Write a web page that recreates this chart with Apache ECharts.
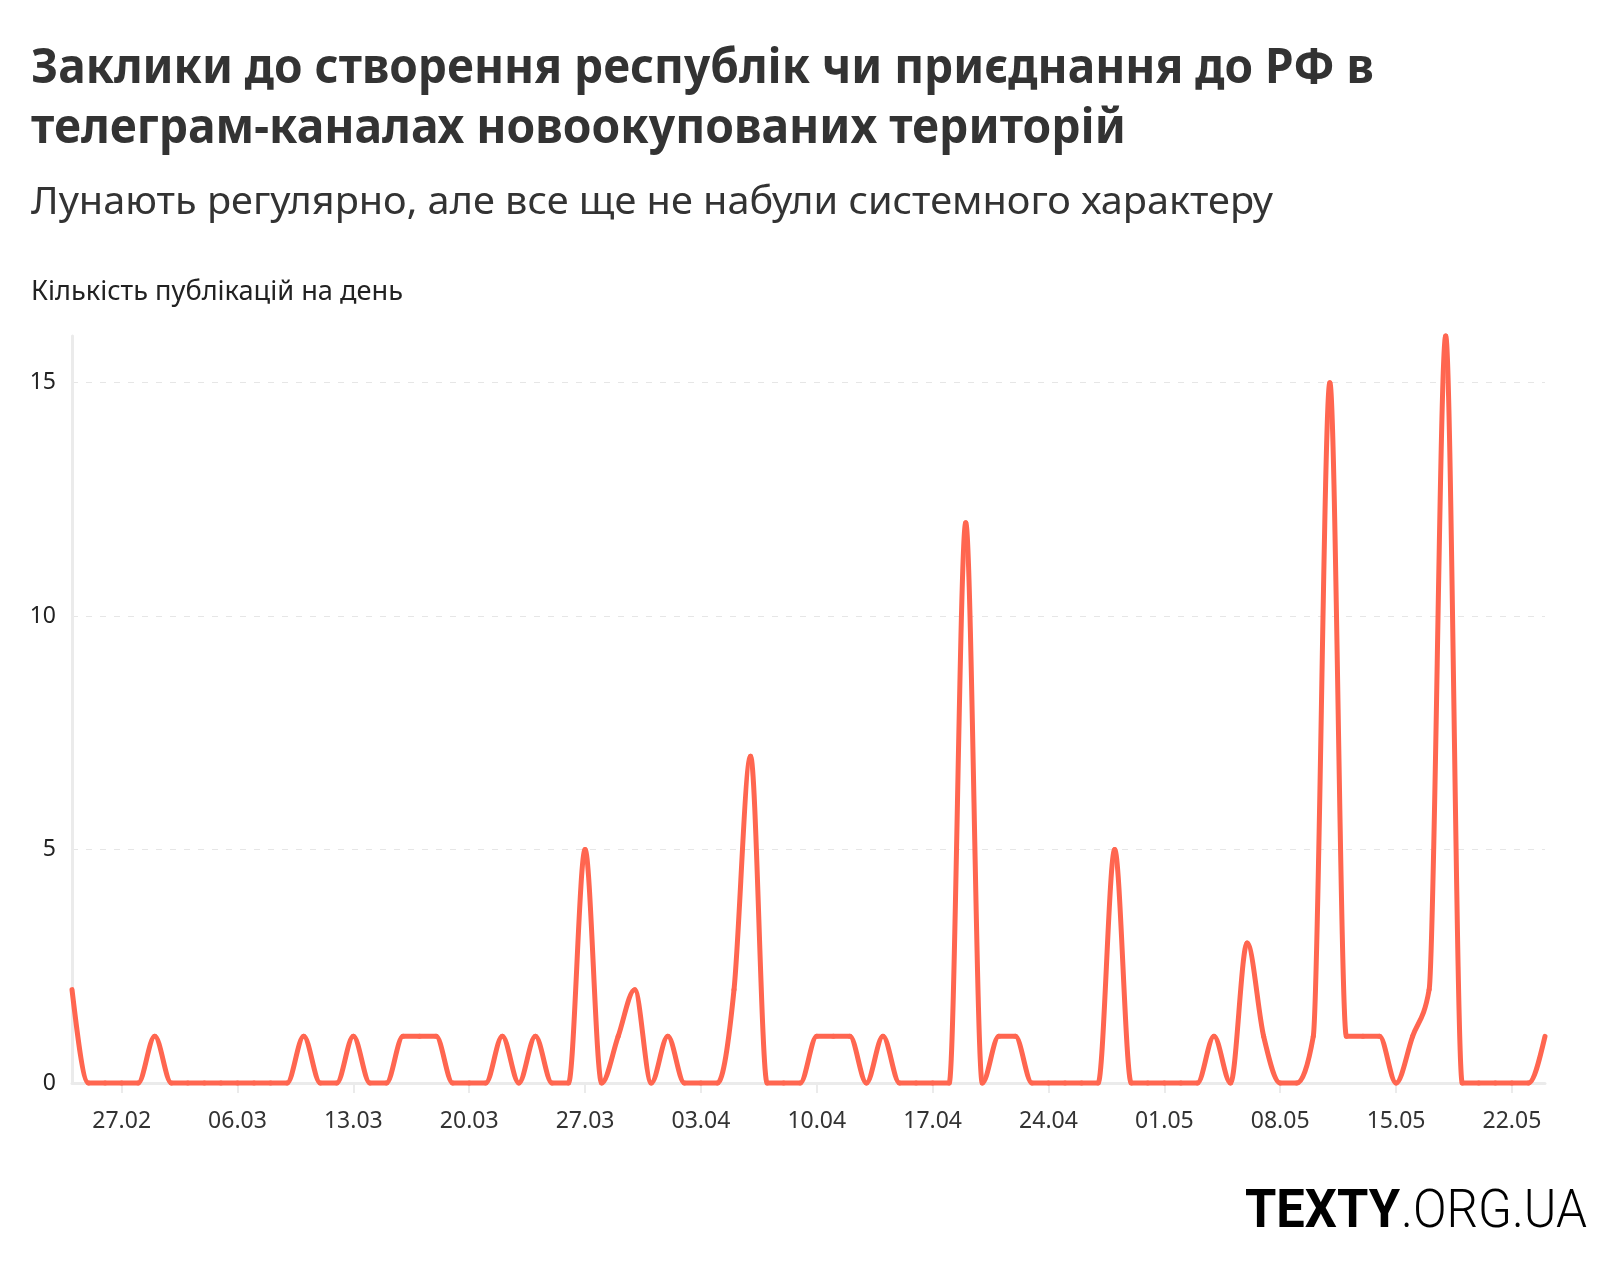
<!DOCTYPE html>
<html>
<head>
<meta charset="utf-8">
<title>Заклики до створення республік чи приєднання до РФ</title>
<script src="https://cdn.jsdelivr.net/npm/echarts@6/dist/echarts.min.js"></script>
<style>
  html, body { margin: 0; padding: 0; background: #fff; }
  #chart { width: 1620px; height: 1270px; }
</style>
</head>
<body>
<div id="chart"></div>
<script>
// дні спостереження, 24.02 - 24.05
var days = [
  '24.02', '25.02', '26.02', '27.02', '28.02',
  '01.03', '02.03', '03.03', '04.03', '05.03', '06.03', '07.03', '08.03', '09.03', '10.03',
  '11.03', '12.03', '13.03', '14.03', '15.03', '16.03', '17.03', '18.03', '19.03', '20.03',
  '21.03', '22.03', '23.03', '24.03', '25.03', '26.03', '27.03', '28.03', '29.03', '30.03', '31.03',
  '01.04', '02.04', '03.04', '04.04', '05.04', '06.04', '07.04', '08.04', '09.04', '10.04',
  '11.04', '12.04', '13.04', '14.04', '15.04', '16.04', '17.04', '18.04', '19.04', '20.04',
  '21.04', '22.04', '23.04', '24.04', '25.04', '26.04', '27.04', '28.04', '29.04', '30.04',
  '01.05', '02.05', '03.05', '04.05', '05.05', '06.05', '07.05', '08.05', '09.05', '10.05',
  '11.05', '12.05', '13.05', '14.05', '15.05', '16.05', '17.05', '18.05', '19.05', '20.05',
  '21.05', '22.05', '23.05', '24.05'
];
// кількість публікацій на день
var posts = [
  2, 0, 0, 0, 0,
  1, 0, 0, 0, 0, 0, 0, 0, 0, 1,
  0, 0, 1, 0, 0, 1, 1, 1, 0, 0,
  0, 1, 0, 1, 0, 0, 5, 0, 1, 2, 0,
  1, 0, 0, 0, 2, 7, 0, 0, 0, 1,
  1, 1, 0, 1, 0, 0, 0, 0, 12, 0,
  1, 1, 0, 0, 0, 0, 0, 5, 0, 0,
  0, 0, 0, 1, 0, 3, 1, 0, 0, 1,
  15, 1, 1, 1, 0, 1, 2, 16, 0, 0,
  0, 0, 0, 1
];
// підписи осей
var xTicks = ['27.02', '06.03', '13.03', '20.03', '27.03', '03.04', '10.04', '17.04', '24.04', '01.05', '08.05', '15.05', '22.05'];
var yTicks = [0, 5, 10, 15];
var yMax = 16;

var titleLines = ['Заклики до створення республік чи приєднання до РФ в', 'телеграм-каналах новоокупованих територій'];
var subTitle = 'Лунають регулярно, але все ще не набули системного характеру';
var yName = 'Кількість публікацій на день';

var lineColor = '#ff6650';
var axisGray = '#ebebeb';

// текст, стиснутий по ширині (оригінал набрано вузьким шрифтом)
var measureCtx = document.createElement('canvas').getContext('2d');
function fitText(text, size, weight, family, left, baseline, width, color) {
  var font = weight + ' ' + size + 'px ' + family;
  measureCtx.font = font;
  var w = measureCtx.measureText(text).width;
  return {
    type: 'text',
    x: left,
    y: baseline - size * 0.285,
    scaleX: width / w,
    style: {
      text: text, font: font, fill: color,
      align: 'left', verticalAlign: 'middle',
      textAlign: 'left', textVerticalAlign: 'middle'
    }
  };
}

// нахили монотонної кривої (як curveMonotoneX)
function sign(v) { return v < 0 ? -1 : 1; }
var slopes = (function () {
  var n = posts.length, t = [];
  for (var i = 1; i < n - 1; i++) {
    var s0 = posts[i] - posts[i - 1], s1 = posts[i + 1] - posts[i];
    var p = (s0 + s1) / 2;
    t[i] = (sign(s0) + sign(s1)) * Math.min(Math.abs(s0), Math.abs(s1), 0.5 * Math.abs(p)) || 0;
  }
  t[0] = (3 * (posts[1] - posts[0]) - t[1]) / 2;
  t[n - 1] = (3 * (posts[n - 1] - posts[n - 2]) - t[n - 2]) / 2;
  return t;
})();

var lineData = posts.map(function (v, i) { return [i, v]; });

function renderSegment(params, api) {
  var i = params.dataIndex;
  if (i >= posts.length - 1) return null;
  var p0 = api.coord([i, posts[i]]);
  var p1 = api.coord([i + 1, posts[i + 1]]);
  var c0 = api.coord([i, posts[i] + slopes[i] / 3]);
  var c1 = api.coord([i + 1, posts[i + 1] - slopes[i + 1] / 3]);
  var dx = (p1[0] - p0[0]) / 3;
  return {
    type: 'bezierCurve',
    shape: {
      x1: p0[0], y1: p0[1], x2: p1[0], y2: p1[1],
      cpx1: p0[0] + dx, cpy1: c0[1], cpx2: p1[0] - dx, cpy2: c1[1]
    },
    style: { fill: 'none', stroke: lineColor, lineWidth: 5, lineCap: 'round' }
  };
}

var chart = echarts.init(document.getElementById('chart'), null, { renderer: 'canvas' });
var option = {
  backgroundColor: '#fff',
  animation: false,
  graphic: [
    fitText(titleLines[0], 48, 'bold', '"Noto Sans"', 31, 83, 1343, '#333'),
    fitText(titleLines[1], 48, 'bold', '"Noto Sans"', 31, 143, 1095, '#333'),
    fitText(subTitle, 38, 'normal', '"Noto Sans"', 31, 214, 1242, '#333'),
    fitText(yName, 27, 'normal', '"Noto Sans"', 31, 300, 372, '#222'),
    fitText('TEXTY', 53, 'bold', 'Roboto', 1245, 1229, 155, '#000'),
    fitText('.ORG.UA', 53, '300', 'Roboto', 1401, 1229, 186, '#000')
  ],
  grid: { left: 72, right: 75, top: 336, bottom: 187 },
  xAxis: {
    type: 'category',
    data: days,
    boundaryGap: false,
    axisLine: { lineStyle: { color: axisGray, width: 3 } },
    axisTick: {
      show: true,
      interval: function (i, v) { return xTicks.indexOf(v) >= 0; },
      length: 10,
      lineStyle: { color: axisGray, width: 2 }
    },
    axisLabel: {
      interval: function (i, v) { return xTicks.indexOf(v) >= 0; },
      color: '#333',
      fontFamily: '"Noto Sans"',
      fontSize: 23,
      margin: 27
    },
    splitLine: { show: false }
  },
  yAxis: {
    type: 'value',
    min: 0,
    max: yMax,
    interval: 5,
    axisLine: { show: true, lineStyle: { color: axisGray, width: 3 } },
    axisTick: { show: false },
    axisLabel: {
      color: '#222',
      fontFamily: '"Noto Sans"',
      fontSize: 23,
      margin: 16,
      formatter: function (v) { return yTicks.indexOf(v) >= 0 ? String(v) : ''; }
    },
    splitLine: {
      show: true,
      showMinLine: false,
      showMaxLine: false,
      lineStyle: { color: '#e6e6e6', width: 1, type: [6, 8] }
    }
  },
  series: [{
    type: 'custom',
    data: lineData,
    encode: { x: 0, y: 1 },
    clip: false,
    renderItem: renderSegment
  }]
};
chart.setOption(option);
</script>
</body>
</html>
